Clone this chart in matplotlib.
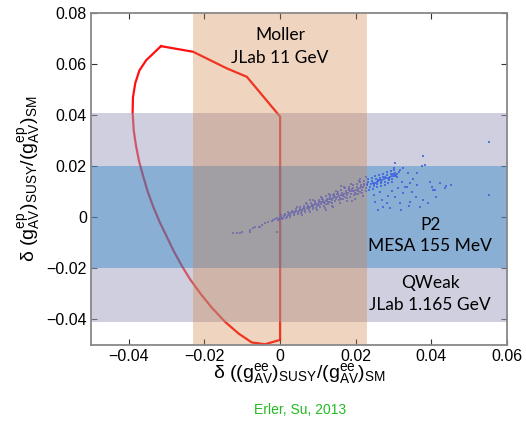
import matplotlib
matplotlib.use("Agg")
import matplotlib.pyplot as plt

plt.rcParams['font.family'] = ['Liberation Sans', 'DejaVu Sans']
plt.rcParams['mathtext.fontset'] = 'custom'
plt.rcParams['mathtext.rm'] = 'Liberation Sans'
plt.rcParams['mathtext.it'] = 'Liberation Sans'
plt.rcParams['mathtext.sf'] = 'Liberation Sans'

# experiment bands (half widths)
moller_dx = 0.023
qweak_dy = 0.041
p2_dy = 0.020

# red contour
curve_x = [-0.0315, -0.023, -0.0141, -0.0088, -0.0044, 0.0, 0.0, -0.004, -0.0075,
           -0.011, -0.0145, -0.018, -0.021, -0.0237, -0.026, -0.0282, -0.030,
           -0.0318, -0.0335, -0.035, -0.0362, -0.0373, -0.0381, -0.0387, -0.0390,
           -0.0389, -0.0383, -0.0372, -0.0354, -0.0315]
curve_y = [0.067, 0.0648, 0.0583, 0.055, 0.0472, 0.0394, -0.048, -0.0497, -0.049,
           -0.0455, -0.041, -0.0355, -0.030, -0.0245, -0.019, -0.013, -0.0075,
           -0.002, 0.004, 0.010, 0.016, 0.022, 0.028, 0.034, 0.041,
           0.047, 0.0525, 0.0575, 0.0615, 0.067]

# SUSY scan points
cloud = [
    (-0.0125, -0.0063), (-0.0114, -0.0060), (-0.0106, -0.0060), (-0.0100, -0.0056),
    (-0.0079, -0.0050), (-0.0079, -0.0057), (-0.0071, -0.0040), (-0.0066, -0.0038),
    (-0.0057, -0.0037), (-0.0053, -0.0038), (-0.0048, -0.0030), (-0.0040, -0.0023),
    (-0.0031, -0.0017), (-0.0022, -0.0013), (-0.0013, -0.0008), (-0.0009, -0.0004),
    (-0.0009, -0.0056), (-0.0018, -0.0010), (-0.0005, -0.0012),
    (0.0000, -0.0002), (0.0003, 0.0003), (-0.0003, -0.0007), (0.0002, 0.0008), (-0.0004, -0.0012),
    (0.0010, 0.0004), (0.0013, 0.0009), (0.0007, -0.0002), (0.0012, 0.0014), (0.0006, -0.0007),
    (0.0020, 0.0009), (0.0023, 0.0015), (0.0017, 0.0003), (0.0022, 0.0020), (0.0016, -0.0002),
    (0.0030, 0.0015), (0.0033, 0.0021), (0.0027, 0.0009), (0.0032, 0.0026), (0.0026, 0.0003),
    (0.0040, 0.0020), (0.0043, 0.0026), (0.0037, 0.0014), (0.0042, 0.0032), (0.0036, 0.0008),
    (0.0050, 0.0026), (0.0053, 0.0032), (0.0047, 0.0019), (0.0052, 0.0039), (0.0046, 0.0013),
    (0.0060, 0.0031), (0.0063, 0.0038), (0.0057, 0.0024), (0.0062, 0.0045), (0.0056, 0.0017),
    (0.0070, 0.0037), (0.0073, 0.0044), (0.0067, 0.0030), (0.0072, 0.0051), (0.0066, 0.0022),
    (0.0080, 0.0042), (0.0083, 0.0049), (0.0077, 0.0035), (0.0082, 0.0056), (0.0076, 0.0028),
    (0.0090, 0.0048), (0.0093, 0.0056), (0.0087, 0.0040), (0.0092, 0.0063), (0.0086, 0.0032),
    (0.0100, 0.0053), (0.0103, 0.0061), (0.0097, 0.0045), (0.0102, 0.0069), (0.0096, 0.0037),
    (0.0110, 0.0059), (0.0113, 0.0067), (0.0107, 0.0051), (0.0112, 0.0076), (0.0106, 0.0042),
    (0.0120, 0.0064), (0.0123, 0.0073), (0.0117, 0.0055), (0.0122, 0.0082), (0.0116, 0.0046),
    (0.0130, 0.0070), (0.0133, 0.0079), (0.0127, 0.0061), (0.0132, 0.0088), (0.0126, 0.0052),
    (0.0140, 0.0075), (0.0143, 0.0084), (0.0137, 0.0066), (0.0142, 0.0093), (0.0136, 0.0057),
    (0.0150, 0.0081), (0.0153, 0.0091), (0.0147, 0.0071), (0.0152, 0.0100), (0.0146, 0.0062),
    (0.0160, 0.0086), (0.0163, 0.0096), (0.0157, 0.0076), (0.0162, 0.0106), (0.0156, 0.0066),
    (0.0170, 0.0092), (0.0173, 0.0102), (0.0167, 0.0082), (0.0172, 0.0113), (0.0166, 0.0071),
    (0.0180, 0.0097), (0.0183, 0.0107), (0.0177, 0.0087), (0.0182, 0.0118), (0.0176, 0.0076),
    (0.0190, 0.0103), (0.0193, 0.0114), (0.0187, 0.0092), (0.0192, 0.0125), (0.0186, 0.0081),
    (0.0200, 0.0108), (0.0203, 0.0119), (0.0197, 0.0097), (0.0202, 0.0130), (0.0196, 0.0086),
    (0.0210, 0.0114), (0.0213, 0.0126), (0.0207, 0.0102), (0.0212, 0.0137), (0.0206, 0.0091),
    (0.0220, 0.0119), (0.0223, 0.0131), (0.0217, 0.0107), (0.0222, 0.0143), (0.0216, 0.0095),
    (0.0230, 0.0125), (0.0233, 0.0137), (0.0227, 0.0113), (0.0232, 0.0149), (0.0226, 0.0101),
    (0.0240, 0.0130), (0.0243, 0.0142), (0.0237, 0.0118), (0.0242, 0.0154), (0.0236, 0.0106),
    (0.0250, 0.0136), (0.0253, 0.0148), (0.0247, 0.0124), (0.0252, 0.0160), (0.0246, 0.0112),
    (0.0260, 0.0141), (0.0263, 0.0153), (0.0257, 0.0129), (0.0262, 0.0165), (0.0256, 0.0117),
    (0.0270, 0.0147), (0.0273, 0.0159), (0.0267, 0.0135), (0.0272, 0.0171), (0.0266, 0.0123),
    (0.0280, 0.0152), (0.0283, 0.0164), (0.0277, 0.0140), (0.0282, 0.0176), (0.0276, 0.0128),
    (0.0290, 0.0158), (0.0293, 0.0170), (0.0287, 0.0146), (0.0292, 0.0182), (0.0286, 0.0134),
    (0.0300, 0.0163), (0.0303, 0.0175), (0.0297, 0.0151), (0.0302, 0.0187), (0.0296, 0.0139),
    (0.0310, 0.0169), (0.0313, 0.0178), (0.0307, 0.0160),
    (0.0245, 0.0134), (0.0255, 0.0139), (0.0265, 0.0145), (0.0275, 0.0150), (0.0285, 0.0155),
    (0.0295, 0.0160), (0.0305, 0.0166), (0.0248, 0.0129), (0.0258, 0.0146), (0.0268, 0.0140),
    (0.0278, 0.0157), (0.0288, 0.0150), (0.0298, 0.0168),
    (0.0055, 0.0030), (0.0085, 0.0044), (0.0105, 0.0058), (0.0125, 0.0066), (0.0145, 0.0079),
    (0.0155, 0.0083), (0.0175, 0.0094), (0.0185, 0.0101), (0.0205, 0.0110), (0.0215, 0.0118),
    (0.0195, 0.0104), (0.0165, 0.0088), (0.0135, 0.0073), (0.0115, 0.0061), (0.0095, 0.0051),
    (0.0075, 0.0039),
    # wider fringe of the band
    (0.0045, 0.0040), (0.0058, 0.0010), (0.0068, 0.0055), (0.0079, 0.0020), (0.0088, 0.0068),
    (0.0098, 0.0028), (0.0108, 0.0080), (0.0118, 0.0036), (0.0128, 0.0092), (0.0138, 0.0046),
    (0.0148, 0.0104), (0.0158, 0.0054), (0.0168, 0.0118), (0.0178, 0.0064), (0.0188, 0.0130),
    (0.0198, 0.0072), (0.0208, 0.0142), (0.0218, 0.0082), (0.0228, 0.0156), (0.0111, 0.0070),
    (0.0131, 0.0058), (0.0151, 0.0090), (0.0171, 0.0080), (0.0191, 0.0110), (0.0211, 0.0098),
    (0.0231, 0.0132), (0.0121, 0.0052), (0.0141, 0.0086), (0.0161, 0.0072), (0.0181, 0.0112),
    (0.0201, 0.0092), (0.0221, 0.0126), (0.0064, 0.0035), (0.0084, 0.0050), (0.0104, 0.0048),
    (0.0120, 0.0028), (0.0160, 0.0122), (0.0190, 0.0062), (0.0210, 0.0150), (0.0080, 0.0068),
    (0.0140, 0.0040),
    (0.0305, 0.0211), (0.0378, 0.0241), (0.0383, 0.0206), (0.0375, 0.0202), (0.0551, 0.0296),
    (0.0553, 0.0087), (0.0453, 0.0127), (0.0422, 0.0133), (0.0405, 0.0107), (0.0438, 0.0124),
    (0.0413, 0.0081), (0.0378, 0.0068), (0.0369, 0.0042), (0.0343, 0.0133), (0.0330, 0.0120),
    (0.0360, 0.0081), (0.0391, 0.0055), (0.0260, 0.0029), (0.0273, 0.0042), (0.0282, 0.0055),
    (0.0317, 0.0055), (0.0344, 0.0061), (0.0326, 0.0094), (0.0335, 0.0120), (0.0361, 0.0127),
    (0.0397, 0.0140), (0.0436, 0.0114), (0.0295, 0.0101), (0.0304, 0.0081), (0.0269, 0.0068),
    (0.0247, 0.0087), (0.0309, 0.0159), (0.0339, 0.0172), (0.0317, 0.0185), (0.0361, 0.0175),
    (0.0326, 0.0192), (0.0300, 0.0192), (0.0410, 0.0107), (0.0401, 0.0120),
    (0.0250, 0.0060), (0.0265, 0.0100), (0.0285, 0.0085), (0.0312, 0.0115), (0.0322, 0.0140),
    (0.0348, 0.0098), (0.0352, 0.0150), (0.0290, 0.0035), (0.0320, 0.0030), (0.0340, 0.0045),
]
cloud_x = [p[0] for p in cloud]
cloud_y = [p[1] for p in cloud]

xticks = [-0.04, -0.02, 0, 0.02, 0.04, 0.06]
xtick_labels = ['\u22120.04', '\u22120.02', '0', '0.02', '0.04', '0.06']
yticks = [-0.04, -0.02, 0, 0.02, 0.04, 0.06, 0.08]
ytick_labels = ['\u22120.04', '\u22120.02', '0', '0.02', '0.04', '0.06', '0.08']

fig = plt.figure(figsize=(5.26, 4.23), dpi=100)
ax = fig.add_axes([0.173, 0.1844, 0.791, 0.785])

ax.plot(curve_x, curve_y, color='#ff1010', lw=1.6, zorder=1)
ax.axhspan(-qweak_dy, qweak_dy, color='#a1a1c1', alpha=0.5, lw=0, zorder=2)
ax.axhspan(-p2_dy, p2_dy, color='#0070bf', alpha=0.33, lw=0, zorder=3)
ax.scatter(cloud_x, cloud_y, s=4.5, marker='s', color='#3a5fe0', lw=0, alpha=0.8, zorder=4)
ax.axvspan(-moller_dx, moller_dx, color='#d17f40', alpha=0.33, lw=0, zorder=5)

lab_font = dict(family=['Lato', 'DejaVu Sans'], fontsize=12.5, ha='center', va='center', zorder=6)
ax.text(0.0, 0.0714, 'Moller', **lab_font)
ax.text(0.0, 0.0624, 'JLab 11 GeV', **lab_font)
ax.text(0.0397, -0.0030, 'P2', **lab_font)
ax.text(0.0397, -0.0112, 'MESA 155 MeV', **lab_font)
ax.text(0.0397, -0.0257, 'QWeak', **lab_font)
ax.text(0.0397, -0.0343, 'JLab 1.165 GeV', **lab_font)

ax.set_xlim(-0.05, 0.06)
ax.set_ylim(-0.05, 0.08)
ax.set_xticks(xticks)
ax.set_xticklabels(xtick_labels, fontsize=11.5)
ax.set_yticks(yticks)
ax.set_yticklabels(ytick_labels, fontsize=11.5)
ax.tick_params(axis='x', direction='in', top=True, length=4, color='#333333', pad=3)
ax.tick_params(axis='y', direction='in', right=True, length=4, color='#333333', pad=3)
for s in ax.spines.values():
    s.set_color('#888888')
    s.set_linewidth(1.3)
    s.set_zorder(7)

ax.set_xlabel(r'$\mathrm{\delta\ ((g^{ee}_{AV})_{SUSY}/(g^{ee}_{AV})_{SM}}$', fontsize=14, labelpad=-2)
ax.set_ylabel(r'$\mathrm{\delta\ (g^{ep}_{AV})_{SUSY}/(g^{ep}_{AV})_{SM}}$', fontsize=14, labelpad=2)

fig.text(0.57, 0.03, 'Erler, Su, 2013', color='#22bb22', fontsize=10, ha='center', va='center')

fig.savefig('out.png', dpi=100)
